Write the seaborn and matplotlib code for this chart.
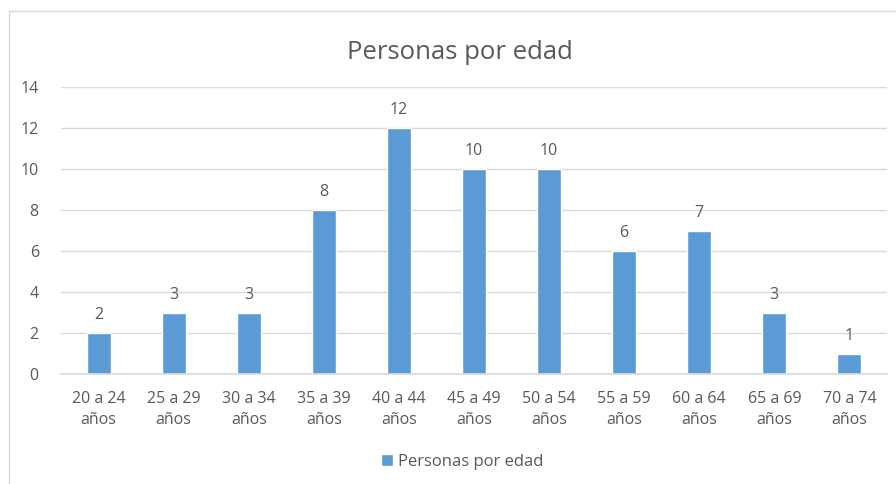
import matplotlib
matplotlib.use('Agg')
import matplotlib.pyplot as plt
import seaborn as sns
import pandas as pd
from matplotlib.patches import Rectangle

# Data
categorias = ['20 a 24\naños', '25 a 29\naños', '30 a 34\naños', '35 a 39\naños',
              '40 a 44\naños', '45 a 49\naños', '50 a 54\naños', '55 a 59\naños',
              '60 a 64\naños', '65 a 69\naños', '70 a 74\naños']
personas = [2, 3, 3, 8, 12, 10, 10, 6, 7, 3, 1]
serie = 'Personas por edad'

df = pd.DataFrame({'edad': categorias, 'personas': personas})

sns.set_style('white')
plt.rcParams['font.family'] = ['Open Sans', 'DejaVu Sans']

gris = '#595959'
azul = '#5B9BD5'

fig = plt.figure(figsize=(8.96, 4.84), dpi=100)
ax = fig.add_axes([61/896, 1 - 374/484, 826/896, 287/484])

sns.barplot(data=df, x='edad', y='personas', color=azul, width=0.32,
            saturation=1, ax=ax, label=serie)

ax.set_ylim(0, 14)
ax.set_yticks(range(0, 15, 2))
ax.set_xlim(-0.5, len(categorias) - 0.5)
ax.yaxis.grid(True, color='#D9D9D9', linewidth=1)
ax.set_axisbelow(True)
for s in ['top', 'right', 'left']:
    ax.spines[s].set_visible(False)
ax.spines['bottom'].set_color('#D9D9D9')
ax.spines['bottom'].set_linewidth(1.2)
ax.tick_params(axis='both', length=0, colors=gris, labelsize=11.5)
ax.tick_params(axis='y', pad=16)
ax.tick_params(axis='x', pad=12)
for t in ax.get_xticklabels():
    t.set_linespacing(1.45)
ax.set_xlabel('')
ax.set_ylabel('')

# value labels
for c in ax.containers:
    ax.bar_label(c, padding=7, color=gris, fontsize=11.5)

ax.set_title(serie, color=gris, fontsize=18.5, pad=20, x=0.4825)

leg = ax.legend(loc='center', bbox_to_anchor=(0.486, (1 - 462/484 - (1 - 374/484)) / (287/484)),
                frameon=False, fontsize=12, handlelength=0.7, handleheight=0.7,
                handletextpad=0.3, labelcolor=gris)

# chart area border
fig.patches.append(Rectangle((9/896, -0.1), 1.2, 1 - 11/484 + 0.1, transform=fig.transFigure,
                             fill=False, edgecolor='#D9D9D9', linewidth=1))

fig.savefig('out.png', dpi=100)
